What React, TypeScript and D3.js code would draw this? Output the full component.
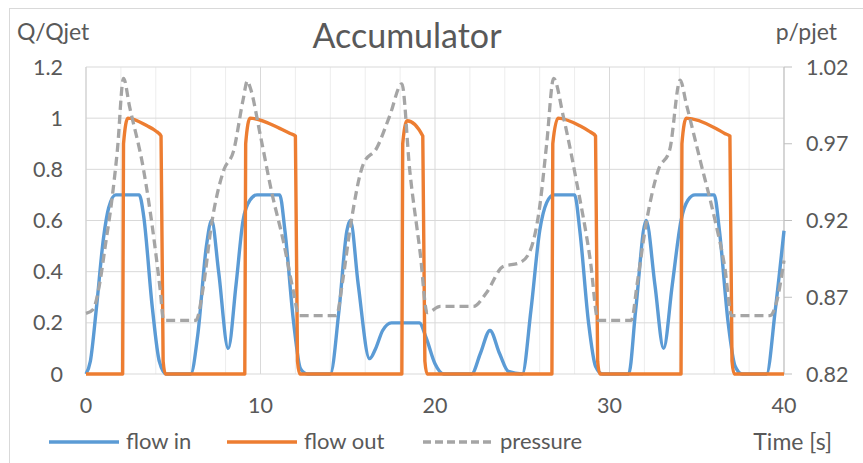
import React from 'react';
import * as d3 from 'd3';

// time [s], Q/Qjet
const flowIn: [number, number][] = [
  [0, 0], [0.25, 0.05], [0.6, 0.26], [1.0, 0.53], [1.3, 0.65], [1.7, 0.7], [3.05, 0.7],
  [3.3, 0.62], [3.8, 0.26], [4.2, 0.05], [4.6, 0], [6.0, 0], [6.4, 0.15], [6.9, 0.5],
  [7.2, 0.6], [7.6, 0.4], [8.15, 0.1], [8.6, 0.35], [9.0, 0.6], [9.4, 0.68], [9.8, 0.7],
  [11.1, 0.7], [11.4, 0.56], [11.9, 0.2], [12.3, 0.02], [12.7, 0], [14.0, 0], [14.5, 0.25],
  [14.95, 0.56], [15.15, 0.6], [15.6, 0.35], [16.25, 0.06], [16.6, 0.1], [17.0, 0.17],
  [17.5, 0.2], [19.1, 0.2], [19.5, 0.14], [20.0, 0.04], [20.5, 0], [22.1, 0], [22.6, 0.08],
  [23.15, 0.17], [23.7, 0.08], [24.2, 0.01], [25.0, 0], [25.5, 0.25], [26.0, 0.56],
  [26.4, 0.67], [26.8, 0.7], [28.0, 0.7], [28.3, 0.56], [28.8, 0.2], [29.2, 0.03],
  [29.6, 0], [31.1, 0], [31.5, 0.25], [32.1, 0.6], [32.6, 0.35], [33.1, 0.1], [33.6, 0.35],
  [34.1, 0.6], [34.5, 0.68], [34.9, 0.7], [36.0, 0.7], [36.3, 0.56], [36.8, 0.2],
  [37.2, 0.03], [37.6, 0], [39.0, 0], [39.5, 0.25], [40, 0.56],
];

const flowOut: [number, number][] = [
  [0, 0], [2.1, 0], [2.15, 0.9], [2.4, 1.0], [3.5, 0.97], [4.0, 0.95], [4.3, 0.93],
  [4.42, 0.05], [4.55, 0], [9.1, 0], [9.15, 0.9], [9.4, 1.0], [11.1, 0.96], [11.7, 0.94],
  [12.0, 0.93], [12.12, 0.05], [12.25, 0], [18.1, 0], [18.15, 0.9], [18.4, 0.99],
  [19.3, 0.93], [19.42, 0.05], [19.55, 0], [26.7, 0], [26.75, 0.9], [27.05, 1.0],
  [28.3, 0.97], [28.8, 0.95], [29.2, 0.93], [29.32, 0.05], [29.45, 0], [34.1, 0],
  [34.15, 0.9], [34.4, 1.0], [36.1, 0.96], [36.6, 0.94], [36.9, 0.93], [37.02, 0.05],
  [37.15, 0], [40, 0],
];

// time [s], p/pjet
const pressure: [number, number][] = [
  [0, 0.8595], [0.4, 0.862], [0.8, 0.88], [1.1, 0.903], [1.5, 0.935], [1.8, 0.966],
  [2.15, 1.0126], [2.5, 0.994], [3.3, 0.953], [3.8, 0.916], [4.25, 0.875], [4.45, 0.855],
  [6.3, 0.855], [6.7, 0.875], [7.2, 0.918], [7.9, 0.953], [8.45, 0.965], [9.0, 0.9985],
  [9.25, 1.011], [9.4, 1.007], [10.0, 0.975], [10.65, 0.938], [11.3, 0.907], [11.9, 0.873],
  [12.2, 0.858], [14.35, 0.858], [14.7, 0.88], [15.15, 0.916], [15.9, 0.957], [16.65, 0.967],
  [17.4, 0.988], [18.1, 1.009], [18.55, 0.953], [19.15, 0.899], [19.55, 0.86], [20.3, 0.864],
  [22.2, 0.864], [22.95, 0.873], [23.9, 0.89], [24.85, 0.8925], [25.4, 0.899], [26.0, 0.929],
  [26.4, 0.97], [26.8, 1.0126], [27.35, 0.988], [28.1, 0.946], [28.9, 0.894], [29.35, 0.855],
  [31.25, 0.855], [31.6, 0.88], [32.1, 0.918], [32.8, 0.953], [33.45, 0.966], [34.05, 1.0115],
  [34.4, 0.996], [35.2, 0.959], [36.05, 0.92], [36.6, 0.89], [37.0, 0.858], [39.2, 0.858],
  [39.6, 0.868], [40, 0.894],
];

const xTicks = [0, 10, 20, 30, 40];
const xGrid = d3.range(0, 41, 2);
const leftTicks = [0, 0.2, 0.4, 0.6, 0.8, 1, 1.2];
const rightTicks = [0.82, 0.87, 0.92, 0.97, 1.02];

const legendItems = [
  { name: 'flow in', color: '#5B9BD5', dash: '' },
  { name: 'flow out', color: '#ED7D31', dash: '' },
  { name: 'pressure', color: '#A5A5A5', dash: '8,4' },
];

const W = 863;
const H = 463;
const font = 'Lato, "Noto Sans", sans-serif';
const txt = '#595959';

export default function App() {
  const x = d3.scaleLinear().domain([0, 40]).range([86, 784]);
  const yL = d3.scaleLinear().domain([0, 1.2]).range([374, 67]);
  const yR = d3.scaleLinear().domain([0.82, 1.02]).range([374, 67]);

  const lineL = d3.line<[number, number]>()
    .x(d => x(d[0]))
    .y(d => yL(d[1]))
    .curve(d3.curveMonotoneX);
  const lineR = d3.line<[number, number]>()
    .x(d => x(d[0]))
    .y(d => yR(d[1]))
    .curve(d3.curveMonotoneX);

  const legendX = [49, 227, 423];

  return (
    <svg width={W} height={H} style={{ position: 'absolute', left: 0, top: 0 }} fontFamily={font}>
      <rect x={0} y={0} width={W} height={H} fill="#fff" />
      <rect x={9.5} y={8.5} width={W + 10} height={H + 10} fill="none" stroke="#D9D9D9" />

      {/* gridlines */}
      {xGrid.map(t => (
        <line key={'gx' + t} x1={x(t)} x2={x(t)} y1={67} y2={374}
          stroke={t % 10 === 0 ? '#D9D9D9' : '#EDEDED'} strokeWidth={1} />
      ))}
      {leftTicks.map(v => (
        <line key={'gy' + v} x1={86} x2={784} y1={yL(v)} y2={yL(v)} stroke="#D9D9D9" strokeWidth={1} />
      ))}
      <line x1={86} x2={86} y1={67} y2={374} stroke="#D0D0D0" />
      <line x1={784} x2={784} y1={67} y2={374} stroke="#BFBFBF" />
      {rightTicks.map(v => (
        <line key={'rt' + v} x1={784} x2={792} y1={yR(v)} y2={yR(v)} stroke="#BFBFBF" />
      ))}

      {/* series */}
      <path d={lineL(flowIn) || ''} fill="none" stroke="#5B9BD5" strokeWidth={3.4} strokeLinejoin="round" />
      <path d={lineL(flowOut) || ''} fill="none" stroke="#ED7D31" strokeWidth={3.4} strokeLinejoin="round" />
      <path d={lineR(pressure) || ''} fill="none" stroke="#A5A5A5" strokeWidth={3.3} strokeDasharray="9,5" />

      {/* axis labels */}
      {leftTicks.map(v => (
        <text key={'lt' + v} x={63} y={yL(v)} dy="0.35em" textAnchor="end" fontSize={21.5} fill={txt}>{v}</text>
      ))}
      {rightTicks.map(v => (
        <text key={'rl' + v} x={806} y={yR(v)} dy="0.35em" fontSize={21.5} fill={txt}>{v.toFixed(2)}</text>
      ))}
      {xTicks.map(t => (
        <text key={'xt' + t} x={x(t)} y={413} textAnchor="middle" fontSize={21.5} fill={txt}>{t}</text>
      ))}

      <text x={407} y={48} textAnchor="middle" fontSize={34} fill={txt}>Accumulator</text>
      <text x={17} y={40} fontSize={23} fill={txt}>Q/Qjet</text>
      <text x={837} y={40} textAnchor="end" fontSize={23} fill={txt}>p/pjet</text>
      <text x={832} y={450} textAnchor="end" fontSize={23} fill={txt}>Time [s]</text>

      {/* legend */}
      {legendItems.map((it, i) => (
        <g key={it.name} transform={`translate(${legendX[i]},442)`}>
          <line x1={0} x2={70} y1={0} y2={0} stroke={it.color} strokeWidth={3.4}
            strokeDasharray={it.dash || undefined} />
          <text x={77} y={7} fontSize={22} fill={txt}>{it.name}</text>
        </g>
      ))}
    </svg>
  );
}
